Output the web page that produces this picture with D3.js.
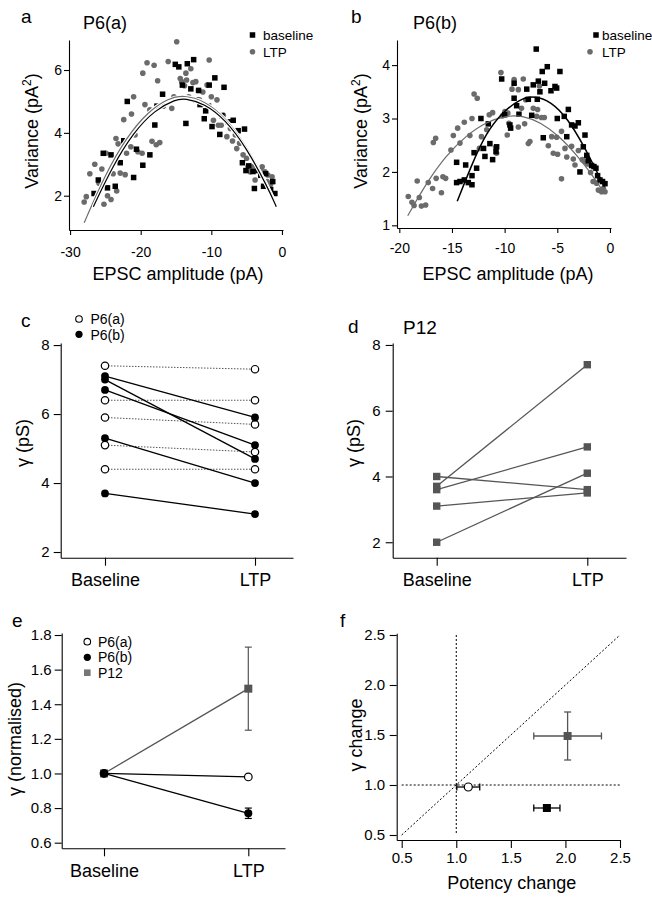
<!DOCTYPE html>
<html><head><meta charset="utf-8">
<script src="https://cdn.jsdelivr.net/npm/d3@7"></script>
<style>
body{margin:0;background:#fff;}
svg{display:block;font-family:"Liberation Sans",Arial,Helvetica,sans-serif;}
</style></head><body>
<svg id="fig" width="652" height="900"></svg>
<script>
// ---------- DATA ----------
// Panel a: P6(a) variance vs EPSC amplitude
const aXTicks = [-30, -20, -10, 0];
const aYTicks = [2, 4, 6];
const aBaseline = [[-26.6,2.07],[-26.0,2.5],[-25.3,3.35],[-24.7,2.25],[-24.2,3.3],[-23.6,2.3],[-22.9,3.05],[-22.4,3.75],[-21.9,5.0],[-21.0,2.58],[-20.6,3.48],[-19.7,2.97],[-18.7,3.3],[-18.0,4.25],[-17.7,4.85],[-16.9,5.23],[-15.1,6.18],[-14.6,6.1],[-14.1,5.52],[-13.6,4.3],[-13.4,6.2],[-12.9,5.4],[-12.5,6.33],[-12.2,5.05],[-11.8,5.35],[-11.6,4.9],[-11.0,4.45],[-10.8,4.7],[-10.4,4.85],[-10.3,5.52],[-9.9,4.2],[-9.5,5.75],[-8.8,3.95],[-8.5,4.55],[-8.2,5.45],[-7.6,4.35],[-6.9,4.4],[-6.2,4.07],[-5.6,3.05],[-5.3,4.12],[-5.1,2.8],[-4.7,2.95],[-4.1,2.77],[-3.9,2.23],[-3.4,2.8],[-3.0,2.65],[-2.6,2.3],[-2.3,2.7],[-1.6,2.2],[-1.3,2.45],[-1.0,2.07]];
const aLtp = [[-28.0,1.8],[-27.7,1.97],[-27.2,2.7],[-26.5,3.0],[-25.9,2.4],[-25.5,2.85],[-25.2,1.73],[-24.9,3.35],[-24.7,2.0],[-24.2,1.88],[-23.9,2.7],[-23.5,3.82],[-23.4,2.15],[-23.2,3.65],[-22.9,2.72],[-22.4,4.42],[-22.2,2.67],[-22.0,3.35],[-21.4,3.56],[-21.3,4.6],[-21.0,5.15],[-20.8,3.93],[-20.4,3.4],[-19.8,3.35],[-19.7,5.9],[-19.4,4.9],[-19.1,6.23],[-18.7,4.73],[-18.4,3.73],[-18.1,6.15],[-17.8,3.62],[-17.6,5.66],[-17.3,3.69],[-16.8,4.85],[-16.1,6.27],[-15.6,4.78],[-15.3,5.15],[-14.9,6.9],[-14.4,5.73],[-14.2,5.63],[-13.8,5.5],[-13.6,5.9],[-13.5,5.68],[-13.2,5.15],[-12.9,6.04],[-12.6,5.6],[-12.2,5.63],[-11.8,5.35],[-11.7,5.05],[-11.2,5.3],[-10.6,5.52],[-10.3,6.32],[-10.0,5.15],[-9.7,4.4],[-9.2,5.05],[-9.0,4.24],[-8.6,4.24],[-8.3,4.56],[-7.8,3.88],[-7.3,4.14],[-7.0,3.74],[-6.6,3.93],[-6.4,3.5],[-6.0,3.67],[-5.5,3.3],[-5.0,3.19],[-4.8,2.92],[-4.5,2.76],[-4.1,2.92],[-3.8,2.5],[-3.7,2.87],[-3.0,2.82],[-2.8,2.92],[-2.4,2.76],[-2.1,2.45],[-2.0,2.66],[-1.6,2.37],[-1.4,2.6]];
const aFitBaseline = [[-26.7,1.65],[-24,2.93],[-21,4.02],[-18,4.73],[-15,5.07],[-13.75,5.1],[-11,4.94],[-8,4.42],[-5,3.52],[-2,2.26],[-0.8,1.65]];
const aFitLtp = [[-28,1.14],[-25,2.69],[-22,3.86],[-19,4.67],[-16,5.11],[-13.9,5.2],[-11,5.03],[-8,4.49],[-5,3.58],[-2,2.31],[-1,1.81]];

// Panel b: P6(b)
const bXTicks = [-20, -15, -10, -5, 0];
const bYTicks = [1, 2, 3, 4];
const bBaseline = [[-14.56,2.18],[-14.56,1.8],[-14.24,1.82],[-13.83,1.85],[-13.7,2.13],[-13.45,1.8],[-13.1,1.76],[-13.1,1.93],[-12.9,2.36],[-12.66,2.07],[-12.25,3.0],[-12.0,2.44],[-11.87,2.29],[-11.55,2.9],[-11.4,2.53],[-11.14,2.23],[-10.82,2.38],[-10.76,2.47],[-10.28,3.74],[-10.0,3.07],[-9.5,2.88],[-9.43,2.82],[-9.1,3.66],[-9.1,3.38],[-8.86,3.24],[-8.64,3.08],[-7.9,3.55],[-7.75,3.36],[-7.43,3.06],[-7.28,3.63],[-7.0,4.3],[-6.9,3.36],[-6.8,3.7],[-6.65,3.5],[-6.43,3.88],[-6.33,2.64],[-6.2,3.66],[-5.95,3.97],[-5.6,3.52],[-5.22,3.6],[-5.06,3.57],[-5.0,3.0],[-4.75,3.88],[-4.34,3.04],[-4.1,2.66],[-3.95,3.17],[-3.64,2.88],[-3.32,2.86],[-3.0,2.92],[-2.85,2.0],[-2.53,2.47],[-2.37,2.69],[-2.2,2.31],[-2.06,2.21],[-1.74,2.12],[-1.52,2.1],[-1.33,2.07],[-1.17,1.93],[-0.95,1.85],[-0.7,1.82],[-0.47,1.78]];
const bLtp = [[-19.15,1.54],[-18.8,1.43],[-18.6,1.37],[-18.3,1.83],[-18.1,1.52],[-17.9,1.36],[-17.5,1.38],[-17.25,1.8],[-16.84,1.69],[-16.77,2.55],[-16.55,2.63],[-16.5,1.88],[-16.0,1.61],[-15.86,1.91],[-15.6,1.88],[-15.1,2.41],[-14.87,2.68],[-14.46,2.82],[-14.24,2.54],[-13.83,2.93],[-13.3,2.68],[-13.1,3.0],[-12.9,3.46],[-12.6,3.38],[-12.4,2.44],[-12.2,2.66],[-11.7,2.79],[-11.46,3.07],[-11.14,3.11],[-10.85,2.46],[-10.76,2.35],[-10.35,3.86],[-10.2,3.05],[-9.97,3.13],[-9.75,2.69],[-9.7,3.1],[-9.6,2.91],[-9.3,3.55],[-9.1,3.73],[-8.7,3.54],[-8.7,2.84],[-8.4,3.19],[-8.23,3.74],[-8.1,2.9],[-8.0,3.35],[-7.75,2.53],[-7.6,2.57],[-7.28,3.19],[-6.96,3.04],[-6.87,3.17],[-6.7,3.61],[-6.5,3.02],[-6.23,3.02],[-5.85,2.49],[-5.53,2.66],[-5.38,2.35],[-5.06,2.65],[-4.97,2.33],[-4.6,1.87],[-4.6,2.76],[-4.27,2.44],[-4.1,2.28],[-3.64,2.48],[-3.48,2.24],[-3.32,2.13],[-3.0,2.4],[-2.63,2.23],[-2.37,2.19],[-2.12,2.15],[-1.84,1.99],[-1.6,1.82],[-1.27,1.79],[-1.1,1.66],[-0.8,1.63],[-0.63,1.69],[-0.47,1.63]];
const bFitBaseline = [[-14.5,1.45],[-13.2,2.1],[-11.8,2.72],[-10.2,3.12],[-8.6,3.36],[-7.2,3.43],[-5.6,3.32],[-4.0,3.0],[-2.4,2.46],[-1.3,2.02],[-0.5,1.72]];
const bFitLtp = [[-19.2,1.18],[-17.4,1.8],[-15.6,2.3],[-13.6,2.69],[-11.8,2.93],[-9.8,3.06],[-8.2,3.05],[-6.6,2.93],[-4.8,2.67],[-3.0,2.28],[-1.6,1.92],[-0.6,1.62]];

// Panel c: single-channel conductance P6
const conditions = ["Baseline", "LTP"];
const cYTicks = [2, 4, 6, 8];
const cP6aBase = [7.4, 6.4, 5.9, 5.1, 4.4];
const cP6aLtp  = [7.3, 6.4, 5.7, 4.9, 4.4];
const cP6bBase = [7.1, 7.0, 6.7, 5.3, 3.7];
const cP6bLtp  = [5.9, 4.7, 5.1, 4.0, 3.1];

// Panel d: P12
const dYTicks = [2, 4, 6, 8];
const dP12Base = [3.7, 3.6, 4.0, 3.1, 2.0];
const dP12Ltp  = [7.4, 4.9, 3.6, 3.5, 4.1];

// Panel e: normalised
const groups = ["P6(a)", "P6(b)", "P12"];
const eYTicks = [0.6, 0.8, 1.0, 1.2, 1.4, 1.6, 1.8];
const eBase = [1, 1, 1];
const eLtp = [0.98, 0.77, 1.49];
const eLtpErr = [0, 0.03, 0.24];

// Panel f: gamma change vs potency change
const fTicks = [0.5, 1.0, 1.5, 2.0, 2.5];
const fPotency = [1.11, 1.83, 2.02];
const fPotencyErr = [0.105, 0.12, 0.31];
const fGamma = [0.98, 0.77, 1.49];
const fGammaErr = [0, 0.02, 0.24];

// ---------- DRAWING ----------
const svg = d3.select('#fig');
const GRAY = '#6b6b6b', DGRAY = '#555';
const intFmt = d => String(d);

function drawAxis(axis, tx, ty, fs) {
  const g = svg.append('g').attr('transform', `translate(${tx},${ty})`).call(axis);
  g.attr('font-family', null).attr('font-size', null);
  g.selectAll('.domain').attr('stroke', '#000').attr('stroke-width', 1.1);
  g.selectAll('.tick line').attr('stroke', '#000').attr('stroke-width', 1.1);
  g.selectAll('.tick text').attr('fill', '#000').style('font-size', fs + 'px');
  return g;
}
function label(x, y, s, fs, anchor) {
  return svg.append('text').attr('x', x).attr('y', y).attr('text-anchor', anchor || 'start')
    .style('font-size', fs + 'px').attr('fill', '#000').text(s);
}
function vlabel(x, y, s, fs) {
  return svg.append('text').attr('transform', `translate(${x},${y}) rotate(-90)`)
    .attr('text-anchor', 'middle').style('font-size', fs + 'px').attr('fill', '#000').text(s);
}
function varianceLabel(x, y) {
  const t = svg.append('text').attr('transform', `translate(${x},${y}) rotate(-90)`)
    .attr('text-anchor', 'middle').style('font-size', '18px');
  t.append('tspan').text('Variance (pA');
  t.append('tspan').attr('dy', -7).style('font-size', '12px').text('2');
  t.append('tspan').attr('dy', 7).text(')');
}
function squares(data, xs, ys, size, color) {
  svg.append('g').selectAll('rect').data(data).join('rect')
    .attr('x', d => xs(d[0]) - size / 2).attr('y', d => ys(d[1]) - size / 2)
    .attr('width', size).attr('height', size).attr('fill', color);
}
function circles(data, xs, ys, r, color) {
  svg.append('g').selectAll('circle').data(data).join('circle')
    .attr('cx', d => xs(d[0])).attr('cy', d => ys(d[1])).attr('r', r).attr('fill', color);
}
function fitLine(pts, xs, ys, color, w, halo) {
  const line = d3.line().x(d => xs(d[0])).y(d => ys(d[1])).curve(d3.curveBasis);
  if (halo) svg.append('path').attr('d', line(pts)).attr('fill', 'none').attr('stroke', '#fff').attr('stroke-width', w + halo);
  svg.append('path').attr('d', line(pts)).attr('fill', 'none').attr('stroke', color).attr('stroke-width', w);
}

// ----- Panel a -----
{
  const x = d3.scaleLinear().domain([-30.15, 0.15]).range([69, 283]);
  const y = d3.scaleLinear().domain([0.909, 6.955]).range([230, 40]);
  drawAxis(d3.axisBottom(x).tickValues(aXTicks).tickFormat(intFmt).tickSize(5).tickSizeOuter(0).tickPadding(12), 0, 230, 14);
  drawAxis(d3.axisLeft(y).tickValues(aYTicks).tickFormat(intFmt).tickSize(5).tickSizeOuter(0).tickPadding(2), 69, 0, 14);
  circles(aLtp, x, y, 2.8, GRAY);
  squares(aBaseline, x, y, 5.5, '#000');
  fitLine(aFitLtp, x, y, GRAY, 1.2, 2.2);
  fitLine(aFitBaseline, x, y, '#000', 1.2, 2.2);
  label(21, 23, 'a', 19);
  label(83, 29, 'P6(a)', 18);
  svg.append('rect').attr('x', 252.5 - 2.75).attr('y', 35 - 2.75).attr('width', 5.5).attr('height', 5.5).attr('fill', '#000');
  label(263, 39.5, 'baseline', 13.5);
  svg.append('circle').attr('cx', 252.5).attr('cy', 51.7).attr('r', 2.8).attr('fill', GRAY);
  label(263, 56.5, 'LTP', 13.5);
  label(178, 280, 'EPSC amplitude (pA)', 18, 'middle');
  varianceLabel(38, 131);
}

// ----- Panel b -----
{
  const x = d3.scaleLinear().domain([-20.22, 0.1]).range([397, 611]);
  const y = d3.scaleLinear().domain([0.95, 4.47]).range([228, 40]);
  drawAxis(d3.axisBottom(x).tickValues(bXTicks).tickFormat(intFmt).tickSize(5).tickSizeOuter(0).tickPadding(10), 0, 228, 14);
  drawAxis(d3.axisLeft(y).tickValues(bYTicks).tickFormat(intFmt).tickSize(5).tickSizeOuter(0).tickPadding(2), 397, 0, 14);
  circles(bLtp, x, y, 2.8, GRAY);
  squares(bBaseline, x, y, 5.5, '#000');
  fitLine(bFitLtp, x, y, GRAY, 1.2, 0);
  fitLine(bFitBaseline, x, y, '#000', 1.5, 0);
  label(351, 23, 'b', 19);
  label(413, 29, 'P6(b)', 18);
  svg.append('rect').attr('x', 596 - 2.75).attr('y', 35 - 2.75).attr('width', 5.5).attr('height', 5.5).attr('fill', '#000');
  label(602, 39.5, 'baseline', 13.5);
  svg.append('circle').attr('cx', 590).attr('cy', 51.7).attr('r', 2.8).attr('fill', GRAY);
  label(602, 56.5, 'LTP', 13.5);
  label(508, 280, 'EPSC amplitude (pA)', 18, 'middle');
  varianceLabel(367, 131);
}

// ----- Panel c -----
{
  const x = d3.scaleLinear().domain([-0.2953, 1.2533]).range([60.7, 293]);
  const y = d3.scaleLinear().domain([1.835, 8.06]).range([557.7, 343]);
  drawAxis(d3.axisBottom(x).tickValues([0, 1]).tickFormat(i => conditions[i]).tickSize(8).tickSizeOuter(0).tickPadding(8), 0, 557.7, 18);
  drawAxis(d3.axisLeft(y).tickValues(cYTicks).tickFormat(intFmt).tickSize(7).tickSizeOuter(0).tickPadding(4), 60.7, 0, 15);
  const g = svg.append('g');
  cP6aBase.forEach((v, i) => {
    g.append('line').attr('x1', x(0)).attr('y1', y(v)).attr('x2', x(1)).attr('y2', y(cP6aLtp[i]))
      .attr('stroke', DGRAY).attr('stroke-width', 1).attr('stroke-dasharray', '1.5,1.5');
  });
  cP6bBase.forEach((v, i) => {
    g.append('line').attr('x1', x(0)).attr('y1', y(v)).attr('x2', x(1)).attr('y2', y(cP6bLtp[i]))
      .attr('stroke', '#000').attr('stroke-width', 1.3);
  });
  const open = cP6aBase.map(v => [0, v]).concat(cP6aLtp.map(v => [1, v]));
  const fill = cP6bBase.map(v => [0, v]).concat(cP6bLtp.map(v => [1, v]));
  g.selectAll('circle.o').data(open).join('circle').attr('class', 'o')
    .attr('cx', d => x(d[0])).attr('cy', d => y(d[1])).attr('r', 3.7)
    .attr('fill', '#fff').attr('stroke', '#000').attr('stroke-width', 1.2);
  g.selectAll('circle.f').data(fill).join('circle').attr('class', 'f')
    .attr('cx', d => x(d[0])).attr('cy', d => y(d[1])).attr('r', 3.9).attr('fill', '#000');
  label(21, 327, 'c', 19);
  svg.append('circle').attr('cx', 79).attr('cy', 319).attr('r', 3.3).attr('fill', '#fff').attr('stroke', '#000').attr('stroke-width', 1.1);
  label(90.5, 324, groups[0], 14);
  svg.append('circle').attr('cx', 79).attr('cy', 334.3).attr('r', 3.6).attr('fill', '#000');
  label(90.5, 339.5, groups[1], 14);
  vlabel(29, 443, 'γ (pS)', 18);
}

// ----- Panel d -----
{
  const x = d3.scaleLinear().domain([(392.7 - 436.7) / 150.6, (626 - 436.7) / 150.6]).range([392.7, 626]);
  const y = d3.scaleLinear().domain([1.53, 8.06]).range([557.7, 343]);
  drawAxis(d3.axisBottom(x).tickValues([0, 1]).tickFormat(i => conditions[i]).tickSize(8).tickSizeOuter(0).tickPadding(8), 0, 557.7, 18);
  drawAxis(d3.axisLeft(y).tickValues(dYTicks).tickFormat(intFmt).tickSize(7).tickSizeOuter(0).tickPadding(5), 392.7, 0, 15);
  const g = svg.append('g');
  dP12Base.forEach((v, i) => {
    g.append('line').attr('x1', x(0)).attr('y1', y(v)).attr('x2', x(1)).attr('y2', y(dP12Ltp[i]))
      .attr('stroke', DGRAY).attr('stroke-width', 1.3);
  });
  const pts = dP12Base.map(v => [0, v]).concat(dP12Ltp.map(v => [1, v]));
  g.selectAll('rect').data(pts).join('rect')
    .attr('x', d => x(d[0]) - 3.7).attr('y', d => y(d[1]) - 3.7).attr('width', 7.4).attr('height', 7.4).attr('fill', DGRAY);
  label(348, 333, 'd', 19);
  label(403, 334, 'P12', 19);
  vlabel(360, 443, 'γ (pS)', 18);
}

// ----- Panel e -----
{
  const x = d3.scaleLinear().domain([(61.7 - 104) / 144.3, (285 - 104) / 144.3]).range([61.7, 285]);
  const y = d3.scaleLinear().domain([0.5676, 1.8116]).range([848.3, 633]);
  drawAxis(d3.axisBottom(x).tickValues([0, 1]).tickFormat(i => conditions[i]).tickSize(8).tickSizeOuter(0).tickPadding(7.5), 0, 848.3, 18);
  drawAxis(d3.axisLeft(y).tickValues(eYTicks).tickFormat(d3.format('.1f')).tickSize(7).tickSizeOuter(0).tickPadding(3), 61.7, 0, 15);
  const colors = ['#000', '#000', DGRAY];
  const order = [2, 0, 1];
  order.forEach(i => {
    svg.append('line').attr('x1', x(0)).attr('y1', y(eBase[i])).attr('x2', x(1)).attr('y2', y(eLtp[i]))
      .attr('stroke', colors[i]).attr('stroke-width', 1.3);
    if (eLtpErr[i] > 0) {
      const eg = svg.append('g').attr('stroke', colors[i]).attr('stroke-width', 1.2);
      eg.append('line').attr('x1', x(1)).attr('x2', x(1)).attr('y1', y(eLtp[i] - eLtpErr[i])).attr('y2', y(eLtp[i] + eLtpErr[i]));
      [eLtp[i] - eLtpErr[i], eLtp[i] + eLtpErr[i]].forEach(v =>
        eg.append('line').attr('x1', x(1) - 3.5).attr('x2', x(1) + 3.5).attr('y1', y(v)).attr('y2', y(v)));
    }
  });
  function marker(i, cx, cy) {
    if (i === 2) svg.append('rect').attr('x', cx - 4).attr('y', cy - 4).attr('width', 8).attr('height', 8).attr('fill', DGRAY);
    else if (i === 0) svg.append('circle').attr('cx', cx).attr('cy', cy).attr('r', 3.8).attr('fill', '#fff').attr('stroke', '#000').attr('stroke-width', 1.2);
    else svg.append('circle').attr('cx', cx).attr('cy', cy).attr('r', 4).attr('fill', '#000');
  }
  order.forEach(i => { marker(i, x(0), y(eBase[i])); marker(i, x(1), y(eLtp[i])); });
  label(12, 627, 'e', 19);
  svg.append('circle').attr('cx', 87.3).attr('cy', 641.7).attr('r', 3.3).attr('fill', '#fff').attr('stroke', '#000').attr('stroke-width', 1.1);
  label(98, 646.8, groups[0], 14);
  svg.append('circle').attr('cx', 87.3).attr('cy', 657.3).attr('r', 3.6).attr('fill', '#000');
  label(98, 662.4, groups[1], 14);
  svg.append('rect').attr('x', 87.3 - 3.3).attr('y', 672.7 - 3.3).attr('width', 6.6).attr('height', 6.6).attr('fill', '#777');
  label(98, 678, groups[2], 14);
  vlabel(21, 739, 'γ (normalised)', 18);
}

// ----- Panel f -----
{
  const x = d3.scaleLinear().domain([0.4542, 2.5]).range([396.7, 620]);
  const y = d3.scaleLinear().domain([0.45, 2.517]).range([840, 633.3]);
  drawAxis(d3.axisBottom(x).tickValues(fTicks).tickFormat(d3.format('.1f')).tickSize(8).tickSizeOuter(0).tickPadding(4.5), 0, 840, 15);
  drawAxis(d3.axisLeft(y).tickValues(fTicks).tickFormat(d3.format('.1f')).tickSize(7).tickSizeOuter(0).tickPadding(4.5), 396.7, 0, 15);
  const rg = svg.append('g').attr('stroke', '#000').attr('stroke-width', 1).attr('stroke-dasharray', '2,2').attr('fill', 'none');
  rg.append('line').attr('x1', x(1)).attr('x2', x(1)).attr('y1', y(2.5)).attr('y2', y(0.5));
  rg.append('line').attr('x1', x(0.5)).attr('x2', x(2.5)).attr('y1', y(1)).attr('y2', y(1));
  rg.append('line').attr('x1', x(0.5)).attr('x2', x(2.5)).attr('y1', y(0.5)).attr('y2', y(2.5));
  const colors = ['#000', '#000', DGRAY];
  [2, 1, 0].forEach(i => {
    const eg = svg.append('g').attr('stroke', colors[i]).attr('stroke-width', 1.3);
    const x0 = fPotency[i] - fPotencyErr[i], x1 = fPotency[i] + fPotencyErr[i];
    eg.append('line').attr('x1', x(x0)).attr('x2', x(x1)).attr('y1', y(fGamma[i])).attr('y2', y(fGamma[i]));
    [x0, x1].forEach(v => eg.append('line').attr('x1', x(v)).attr('x2', x(v)).attr('y1', y(fGamma[i]) - 3.5).attr('y2', y(fGamma[i]) + 3.5));
    if (fGammaErr[i] > 0) {
      const y0 = fGamma[i] - fGammaErr[i], y1 = fGamma[i] + fGammaErr[i];
      eg.append('line').attr('x1', x(fPotency[i])).attr('x2', x(fPotency[i])).attr('y1', y(y0)).attr('y2', y(y1));
      [y0, y1].forEach(v => eg.append('line').attr('x1', x(fPotency[i]) - 3.5).attr('x2', x(fPotency[i]) + 3.5).attr('y1', y(v)).attr('y2', y(v)));
    }
    const cx = x(fPotency[i]), cy = y(fGamma[i]);
    if (i === 0) svg.append('circle').attr('cx', cx).attr('cy', cy).attr('r', 4).attr('fill', '#fff').attr('stroke', '#000').attr('stroke-width', 1.2);
    else svg.append('rect').attr('x', cx - 4).attr('y', cy - 4).attr('width', 8).attr('height', 8).attr('fill', colors[i]);
  });
  label(340, 627, 'f', 19);
  label(511.7, 889, 'Potency change', 18, 'middle');
  vlabel(362, 735, 'γ change', 18);
}
</script>
</body></html>
